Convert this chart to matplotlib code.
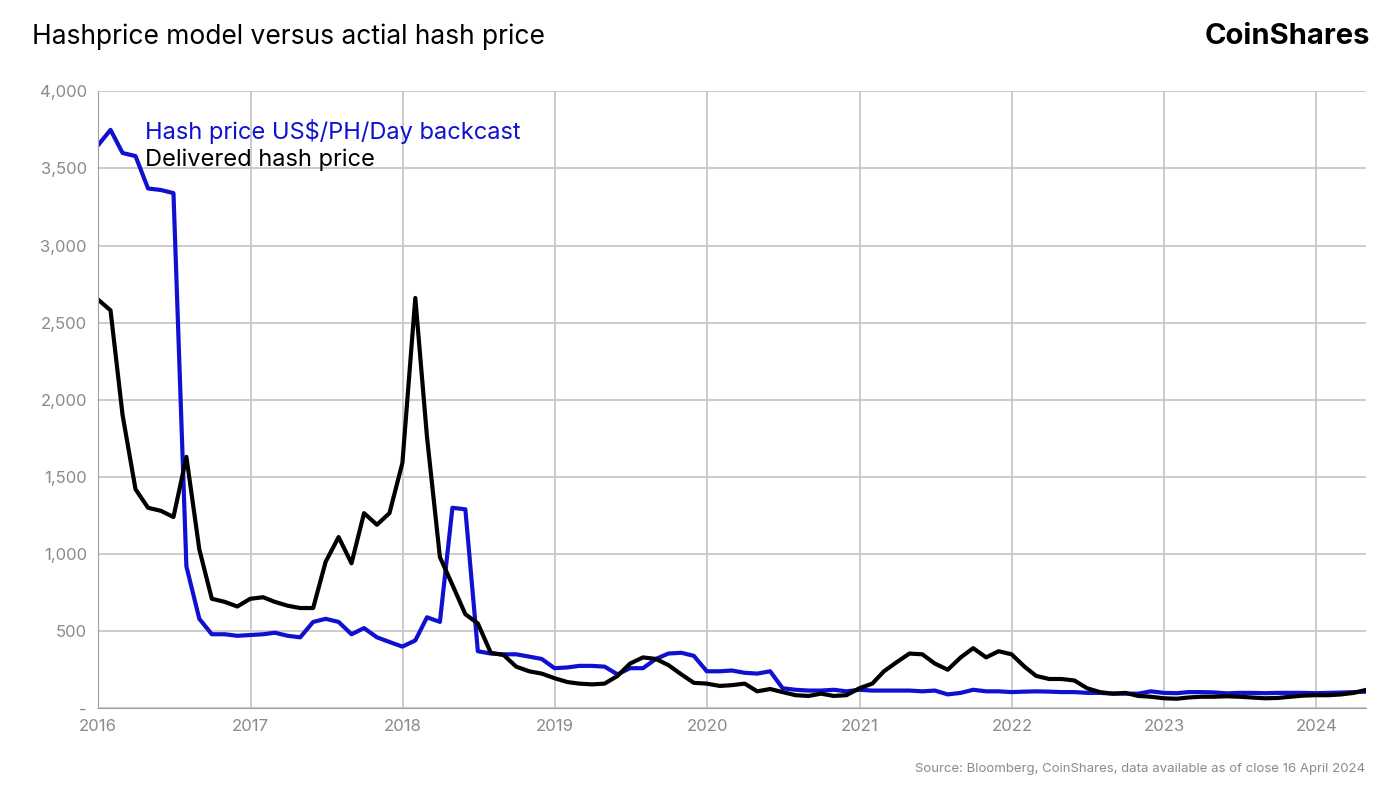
import matplotlib
matplotlib.use("Agg")
import matplotlib.pyplot as plt
import numpy as np
import pandas as pd

hash_model = [3650,3750,3600,3580,3370,3360,3340,920,580,480,480,470,
              475,480,490,470,460,560,580,560,480,520,460,430,
              400,440,590,560,1300,1290,370,355,350,350,335,320,
              260,265,275,275,270,220,260,260,320,355,360,340,
              240,240,245,230,225,240,130,120,115,115,120,110,
              120,115,115,115,115,110,115,90,100,120,110,110,
              105,108,110,108,105,105,100,100,95,95,95,110,
              100,98,105,105,103,97,100,100,98,100,100,100,
              98,100,102,105,108]
delivered = [2650,2580,1900,1420,1300,1280,1240,1630,1030,710,690,660,
             710,720,690,665,650,650,950,1110,940,1265,1190,1265,
             1590,2660,1760,980,800,610,550,360,345,270,240,225,
             195,170,160,155,160,210,290,330,320,280,220,165,
             160,145,150,160,110,125,105,85,80,95,80,85,
             130,160,240,300,355,350,290,250,330,390,330,370,
             350,270,210,190,190,180,130,105,95,100,80,75,
             65,62,70,75,75,78,75,70,65,67,75,82,
             85,85,90,100,120]
dates = [pd.Timestamp("2016-01-01")] + list(pd.date_range("2016-01-31", periods=len(hash_model) - 1, freq="ME"))
years = list(range(2016, 2025))
yticks = [0,500,1000,1500,2000,2500,3000,3500,4000]
ylabels = ["-","500","1,000","1,500","2,000","2,500","3,000","3,500","4,000"]

plt.rcParams['font.family'] = ['Inter', 'DejaVu Sans']
fig = plt.figure(figsize=(14, 7.87), dpi=100)
ax = fig.add_axes([0.07, 0.1, 0.906, 0.784])
ax.plot(dates, hash_model, color="#1010d0", lw=3, label="Hash price US$/PH/Day backcast")
ax.plot(dates, delivered, color="black", lw=3, label="Delivered hash price")
ax.set_ylim(0, 4000)
ax.set_xlim(pd.Timestamp("2016-01-01"), dates[-1])
ax.set_yticks(yticks)
ax.set_yticklabels(ylabels)
ax.set_xticks([pd.Timestamp(f"{y}-01-01") for y in years])
ax.set_xticklabels([str(y) for y in years])
ax.grid(True, color="#c4c4c4", lw=1.2)
ax.set_axisbelow(True)
for s in ["top", "right"]:
    ax.spines[s].set_visible(False)
for s in ["left", "bottom"]:
    ax.spines[s].set_color("#a0a0a0")
ax.tick_params(colors="#8a8a8a", labelsize=12, length=0, pad=8)
leg = ax.legend(loc="upper left", bbox_to_anchor=(0.02, 0.99), frameon=False,
                handlelength=0, handletextpad=0, fontsize=17, labelspacing=0.2)
for t, c in zip(leg.get_texts(), ["#1010d0", "black"]):
    t.set_color(c)
for h in leg.legend_handles:
    h.set_visible(False)
fig.text(0.023, 0.953, "Hashprice model versus actial hash price", fontsize=19, va="center")
fig.text(0.979, 0.953, "CoinShares", fontsize=21, fontweight="bold", ha="right", va="center")
fig.text(0.975, 0.023, "Source: Bloomberg, CoinShares, data available as of close 16 April 2024",
         fontsize=9.5, color="#8a8a8a", ha="right", va="center")
fig.savefig("out.png", dpi=100)
